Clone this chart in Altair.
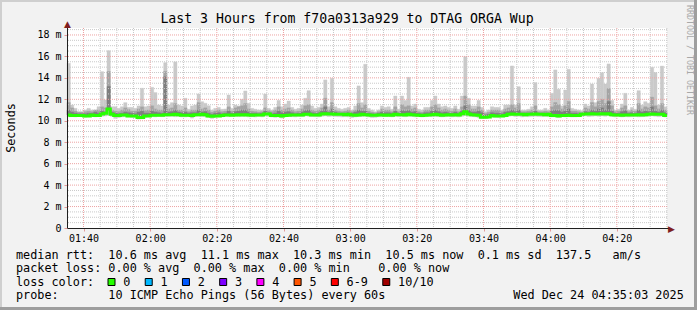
import altair as alt
import pandas as pd

# ---------------- data ----------------
start_minute = 95.05          # 01:35:03 expressed in minutes after midnight
step_minutes = 1.0            # one sample per 60 s

rtt_max = [
    15.36, 11.47, 11.16, 10.85, 10.85, 11.0, 11.16, 11.0, 11.0, 11.31,
    14.58, 11.94, 16.54, 11.31, 11.31, 11.16, 11.31, 11.69, 11.25, 11.25,
    11.16, 11.38, 13.03, 11.31, 11.38, 13.12, 12.63, 11.47, 11.38, 15.42,
    11.47, 11.69, 15.49, 11.47, 11.38, 12.1, 11.07, 11.38, 11.47, 12.5,
    11.78, 11.63, 11.4, 11.0, 11.16, 11.25, 11.07, 11.1, 12.4, 11.16,
    11.47, 11.38, 12.0, 12.78, 11.63, 11.16, 11.07, 11.0, 11.0, 12.5,
    11.16, 11.0, 11.25, 11.9, 11.31, 11.56, 11.84, 11.25, 11.07, 11.16,
    11.47, 12.1, 12.81, 11.38, 11.16, 11.25, 11.56, 13.81, 11.31, 13.96,
    11.31, 11.16, 11.07, 11.16, 11.25, 11.0, 11.38, 13.25, 11.69, 15.27,
    11.16, 11.0, 10.85, 11.0, 11.38, 11.25, 11.31, 11.07, 12.31, 11.07,
    12.31, 11.9, 14.05, 11.38, 11.56, 11.07, 11.0, 11.25, 11.25, 11.9,
    12.31, 11.56, 11.31, 11.38, 11.25, 11.16, 11.38, 11.07, 12.31, 15.98,
    12.1, 11.38, 11.38, 11.9, 11.25, 10.85, 11.0, 11.31, 11.25, 11.25,
    11.0, 11.47, 11.47, 15.11, 11.47, 13.18, 11.0, 11.0, 11.07, 11.31,
    13.56, 11.0, 11.0, 11.16, 11.0, 12.56, 14.74, 12.94, 11.38, 12.87,
    14.8, 11.16, 11.07, 11.0, 10.94, 11.56, 11.38, 13.43, 11.69, 13.96,
    14.49, 13.43, 15.3, 11.9, 11.0, 11.07, 11.56, 12.56, 11.0, 11.25,
    11.07, 12.81, 11.47, 11.78, 11.63, 14.99, 14.5, 11.47, 15.1, 11.3,
]

rtt_p9 = [
    11.7, 11.2, 10.9, 10.8, 10.8, 10.85, 10.9, 10.85, 11.0, 11.0,
    11.3, 11.2, 14.6, 11.0, 10.9, 10.85, 11.0, 11.2, 11.05, 10.9,
    10.9, 11.1, 11.3, 10.95, 11.0, 11.4, 11.1, 11.0, 11.0, 14.6,
    11.1, 11.2, 11.6, 11.0, 11.0, 11.2, 10.85, 11.0, 11.0, 11.7,
    11.1, 11.2, 11.0, 10.8, 10.9, 11.0, 10.85, 10.9, 11.3, 10.9,
    11.2, 11.3, 11.4, 11.6, 11.1, 10.9, 10.85, 10.8, 10.85, 11.2,
    10.95, 10.85, 11.0, 11.3, 11.0, 11.1, 11.2, 11.0, 10.85, 10.9,
    11.1, 11.4, 11.5, 11.0, 10.9, 11.0, 11.2, 12.1, 11.0, 11.7,
    11.0, 10.9, 10.85, 10.9, 11.0, 10.85, 11.0, 11.6, 11.2, 11.5,
    10.9, 10.8, 10.75, 10.85, 11.1, 11.0, 11.0, 10.85, 11.3, 10.85,
    11.5, 11.3, 11.4, 11.1, 11.2, 10.85, 10.8, 11.0, 11.0, 11.3,
    11.5, 11.2, 11.0, 11.1, 11.0, 10.9, 11.1, 10.85, 11.3, 12.3,
    11.5, 11.1, 11.1, 11.3, 11.0, 10.7, 10.8, 11.0, 11.0, 11.0,
    10.85, 11.1, 11.2, 11.5, 11.2, 11.6, 10.85, 10.85, 10.9, 11.0,
    11.4, 10.85, 10.85, 10.9, 10.85, 11.3, 11.7, 11.5, 11.1, 11.4,
    11.8, 10.9, 10.9, 10.85, 10.8, 11.2, 11.1, 11.7, 11.3, 11.8,
    12.0, 11.6, 13.0, 11.4, 10.85, 10.9, 11.2, 11.4, 10.85, 11.0,
    10.9, 11.6, 11.1, 11.3, 11.2, 12.2, 11.4, 11.1, 11.6, 11.0,
]

rtt_p8 = [
    11.0, 10.8, 10.7, 10.65, 10.65, 10.65, 10.7, 10.7, 10.8, 10.7,
    10.9, 10.8, 13.2, 10.8, 10.7, 10.65, 10.7, 10.8, 10.75, 10.7,
    10.65, 10.8, 10.9, 10.7, 10.7, 10.9, 10.8, 10.75, 10.7, 14.1,
    10.8, 10.85, 11.0, 10.8, 10.75, 10.8, 10.7, 10.75, 10.75, 11.0,
    10.8, 10.85, 10.7, 10.6, 10.7, 10.75, 10.65, 10.7, 10.9, 10.7,
    10.85, 10.9, 11.0, 11.0, 10.8, 10.7, 10.7, 10.65, 10.7, 10.9,
    10.75, 10.65, 10.7, 10.9, 10.75, 10.8, 10.85, 10.75, 10.65, 10.7,
    10.8, 10.95, 11.0, 10.75, 10.7, 10.75, 10.9, 11.3, 10.8, 11.1,
    10.8, 10.7, 10.7, 10.7, 10.75, 10.7, 10.8, 11.0, 10.9, 10.9,
    10.7, 10.65, 10.6, 10.7, 10.8, 10.75, 10.75, 10.7, 10.9, 10.7,
    10.95, 10.9, 10.95, 10.8, 10.85, 10.7, 10.65, 10.75, 10.75, 10.9,
    11.0, 10.85, 10.75, 10.8, 10.75, 10.7, 10.8, 10.7, 10.9, 11.4,
    10.95, 10.8, 10.8, 10.9, 10.75, 10.55, 10.6, 10.75, 10.7, 10.7,
    10.65, 10.8, 10.85, 11.0, 10.85, 11.0, 10.7, 10.7, 10.7, 10.75,
    10.9, 10.7, 10.7, 10.7, 10.7, 10.9, 11.0, 10.95, 10.8, 10.9,
    11.1, 10.7, 10.7, 10.65, 10.65, 10.85, 10.8, 11.0, 10.9, 11.1,
    11.2, 11.0, 11.8, 10.9, 10.7, 10.7, 10.85, 10.95, 10.7, 10.75,
    10.7, 11.0, 10.8, 10.9, 10.85, 11.3, 10.9, 10.8, 11.0, 10.75,
]

rtt_min = [
    10.35, 10.38, 10.36, 10.4, 10.38, 10.32, 10.35, 10.4, 10.36, 10.38,
    10.42, 10.45, 10.5, 10.4, 10.22, 10.3, 10.36, 10.38, 10.35, 10.3,
    10.28, 10.15, 10.18, 10.3, 10.35, 10.38, 10.36, 10.4, 10.38, 10.42,
    10.4, 10.42, 10.38, 10.4, 10.36, 10.35, 10.38, 10.25, 10.4, 10.42,
    10.4, 10.38, 10.32, 10.22, 10.3, 10.35, 10.36, 10.4, 10.38, 10.42,
    10.4, 10.38, 10.42, 10.4, 10.36, 10.38, 10.35, 10.4, 10.36, 10.45,
    10.42, 10.35, 10.32, 10.36, 10.25, 10.38, 10.4, 10.38, 10.36, 10.4,
    10.38, 10.45, 10.42, 10.4, 10.38, 10.36, 10.42, 10.45, 10.4, 10.42,
    10.4, 10.38, 10.36, 10.38, 10.36, 10.3, 10.35, 10.38, 10.4, 10.42,
    10.35, 10.3, 10.32, 10.36, 10.38, 10.4, 10.38, 10.36, 10.42, 10.38,
    10.4, 10.38, 10.42, 10.4, 10.36, 10.38, 10.35, 10.38, 10.4, 10.38,
    10.4, 10.38, 10.36, 10.38, 10.4, 10.36, 10.38, 10.35, 10.42, 10.5,
    10.42, 10.38, 10.36, 10.3, 10.2, 10.22, 10.28, 10.35, 10.32, 10.3,
    10.35, 10.38, 10.42, 10.45, 10.4, 10.42, 10.36, 10.4, 10.38, 10.4,
    10.42, 10.4, 10.38, 10.4, 10.38, 10.36, 10.35, 10.3, 10.38, 10.36,
    10.38, 10.35, 10.36, 10.38, 10.42, 10.45, 10.4, 10.42, 10.45, 10.42,
    10.45, 10.42, 10.48, 10.4, 10.36, 10.38, 10.35, 10.38, 10.36, 10.38,
    10.4, 10.36, 10.38, 10.4, 10.42, 10.45, 10.42, 10.38, 10.42, 10.35,
]

rtt_median = [
    10.54, 10.48, 10.48, 10.48, 10.48, 10.45, 10.45, 10.54, 10.48, 10.48,
    10.63, 10.7, 11.1, 10.6, 10.48, 10.48, 10.54, 10.54, 10.45, 10.45,
    10.45, 10.3, 10.3, 10.45, 10.45, 10.51, 10.51, 10.51, 10.51, 10.57,
    10.57, 10.57, 10.6, 10.57, 10.51, 10.51, 10.51, 10.48, 10.57, 10.57,
    10.6, 10.57, 10.45, 10.42, 10.45, 10.45, 10.48, 10.54, 10.54, 10.51,
    10.54, 10.57, 10.54, 10.57, 10.54, 10.51, 10.54, 10.54, 10.54, 10.63,
    10.63, 10.48, 10.48, 10.48, 10.45, 10.48, 10.51, 10.54, 10.54, 10.54,
    10.54, 10.6, 10.6, 10.54, 10.54, 10.54, 10.63, 10.66, 10.63, 10.63,
    10.6, 10.6, 10.6, 10.57, 10.6, 10.54, 10.51, 10.54, 10.6, 10.57,
    10.54, 10.51, 10.51, 10.54, 10.54, 10.51, 10.54, 10.51, 10.6, 10.57,
    10.57, 10.54, 10.6, 10.57, 10.54, 10.51, 10.48, 10.51, 10.54, 10.57,
    10.6, 10.57, 10.51, 10.54, 10.57, 10.54, 10.57, 10.54, 10.66, 10.85,
    10.63, 10.57, 10.54, 10.51, 10.33, 10.33, 10.36, 10.48, 10.45, 10.45,
    10.45, 10.48, 10.6, 10.63, 10.6, 10.6, 10.6, 10.57, 10.6, 10.6,
    10.63, 10.6, 10.6, 10.57, 10.6, 10.48, 10.48, 10.45, 10.48, 10.48,
    10.51, 10.48, 10.48, 10.48, 10.6, 10.63, 10.63, 10.66, 10.63, 10.63,
    10.66, 10.63, 10.66, 10.57, 10.54, 10.54, 10.51, 10.54, 10.54, 10.54,
    10.54, 10.57, 10.54, 10.57, 10.6, 10.63, 10.6, 10.6, 10.6, 10.5,
]

y_ticks = [0, 2, 4, 6, 8, 10, 12, 14, 16, 18]
x_ticks = [100, 120, 140, 160, 180, 200, 220, 240, 260]   # 01:40 ... 04:20

title_text = "Last 3 Hours from f70a0313a929 to DTAG ORGA Wup"
y_title = "Seconds"
watermark = "RRDTOOL / TOBI OETIKER"
row_rtt = "median rtt:  10.6 ms avg  11.1 ms max  10.3 ms min  10.5 ms now  0.1 ms sd  137.5   am/s"
row_loss = "packet loss: 0.00 % avg  0.00 % max  0.00 % min    0.00 % now"
row_color = "loss color:"
row_probe = "probe:       10 ICMP Echo Pings (56 Bytes) every 60s"
date_text = "Wed Dec 24 04:35:03 2025"
loss_labels = ["0", "1", "2", "3", "4", "5", "6-9", "10/10"]
loss_colors = ["#26ff00", "#00b8ff", "#0059ff", "#7e00ff", "#ff00ff", "#ff5500", "#ff0000", "#a10000"]

# ---------------- build tables ----------------
n = len(rtt_max)
df = pd.DataFrame({
    "t0": [start_minute + i * step_minutes for i in range(n)],
    "t1": [start_minute + (i + 1) * step_minutes for i in range(n)],
    "lo": rtt_min, "hi": rtt_max, "p9": rtt_p9, "p8": rtt_p8, "med": rtt_median,
})
med_df = pd.DataFrame({
    "t0": list(df["t0"]) + [df["t1"].iloc[-1]],
    "med": rtt_median + [rtt_median[-1]],
})

end_minute = start_minute + n * step_minutes
x_scale = alt.Scale(domain=[start_minute, end_minute], nice=False, zero=False)
y_scale = alt.Scale(domain=[0, 18.65], nice=False, zero=False)

MONO = "DejaVu Sans Mono"
CW = 7.12   # legend character advance (px)
NB = "\u00a0"

def keep_spaces(s):
    return s.replace(" ", NB)

x_axis = alt.Axis(
    values=x_ticks, title=None, grid=False, domain=True, domainColor="#1f1f1f",
    labelExpr="format(floor(datum.value/60),'02d') + ':' + format(datum.value%60,'02d')",
    labelFont=MONO, labelFontSize=10, labelColor="black", labelPadding=2,
    tickSize=3, tickColor="#e39a9a", labelFlush=False)
y_axis = alt.Axis(
    values=y_ticks, title=None, grid=False, domain=True, domainColor="#1f1f1f",
    labelExpr="datum.value == 0 ? '0' : datum.value + ' m'",
    labelFont=MONO, labelFontSize=10, labelColor="black", labelPadding=3,
    tickSize=3, tickColor="#e39a9a")

def X(field):
    return alt.X(field, scale=x_scale, axis=x_axis, title=None)

def Y(field):
    return alt.Y(field, scale=y_scale, axis=y_axis, title=None)

# plot origin is at canvas (67, 28)
OX, OY = 67, 28

base = alt.Chart(df)
band1 = base.mark_rect(color="#cacaca", stroke="#cacaca", strokeWidth=0.4).encode(
    x=X("t0:Q"), x2="t1:Q", y=Y("lo:Q"), y2="hi:Q")
band2 = base.mark_rect(color="#a4a4a4", stroke="#a4a4a4", strokeWidth=0.4).encode(
    x=X("t0:Q"), x2="t1:Q", y=Y("med:Q"), y2="p9:Q")
band3 = base.mark_rect(color="#7e7e7e", stroke="#7e7e7e", strokeWidth=0.4).encode(
    x=X("t0:Q"), x2="t1:Q", y=Y("med:Q"), y2="p8:Q")

# grid
minor_y = [v * 0.5 for v in range(1, 38) if v % 4 != 0]
minor_x = [m for m in range(100, 276, 5) if m % 20 != 0]
grid_minor_y = alt.Chart(pd.DataFrame({"lo": minor_y})).mark_rule(
    color="#c9c9c9", strokeDash=[1, 1], strokeWidth=1).encode(y=Y("lo:Q"))
grid_major_y = alt.Chart(pd.DataFrame({"lo": y_ticks[1:]})).mark_rule(
    color="#eda3a3", strokeDash=[1, 1], strokeWidth=1).encode(y=Y("lo:Q"))
grid_minor_x = alt.Chart(pd.DataFrame({"t0": minor_x})).mark_rule(
    color="#c9c9c9", strokeDash=[1, 1], strokeWidth=1).encode(x=X("t0:Q"))
grid_major_x = alt.Chart(pd.DataFrame({"t0": x_ticks})).mark_rule(
    color="#eda3a3", strokeDash=[1, 1], strokeWidth=1).encode(x=X("t0:Q"))

median_line = alt.Chart(med_df).mark_line(
    color="#26ff00", strokeWidth=3, interpolate="step-after").encode(
    x=X("t0:Q"), y=Y("med:Q"))

one = pd.DataFrame({"k": [0]})

def rect(x, x2, y, y2, color):
    return alt.Chart(one).mark_rect(color=color).encode(
        x=alt.value(x - OX), x2=alt.value(x2 - OX),
        y=alt.value(y - OY), y2=alt.value(y2 - OY))

def text(s, x, y, size, color="black", align="left", baseline="alphabetic", angle=0, font=MONO):
    kw = dict(font=font, fontSize=size, color=color, align=align, baseline=baseline)
    if angle:
        kw["angle"] = angle
    return alt.Chart(one).mark_text(**kw).encode(
        x=alt.value(x - OX), y=alt.value(y - OY), text=alt.value(keep_spaces(s)))

# axis extensions and arrows (canvas coordinates)
axis_bits = [
    rect(67, 68, 24, 228, "#1f1f1f"),       # y axis running up to the arrow
    rect(667, 669, 228, 229, "#1f1f1f"),    # x axis running to the arrow
    text("\u25b2", 67.5, 23.5, 9, color="#801f1f", align="center", baseline="middle", font="DejaVu Sans"),
    text("\u25b6", 671.5, 228.5, 9, color="#801f1f", align="center", baseline="middle", font="DejaVu Sans"),
]

# frame shading
frame = [
    rect(0, 697, 0, 2, "#cfcfcf"),
    rect(0, 2, 0, 310, "#cfcfcf"),
    rect(694, 697, 0, 310, "#9e9e9e"),
    rect(0, 697, 307, 310, "#9e9e9e"),
]

# loss colour legend boxes
box_x = [108.0]
for lab in loss_labels[:-1]:
    box_x.append(box_x[-1] + 30.1 + CW * len(lab))
leg = pd.DataFrame({
    "bx": [b - OX for b in box_x],
    "bx2": [b + 7 - OX for b in box_x],
    "tx": [b + 15.3 - OX for b in box_x],
    "lab": loss_labels,
    "col": loss_colors,
})
leg_boxes = alt.Chart(leg).mark_rect(stroke="black", strokeWidth=1).encode(
    x=alt.X("bx:Q", scale=None), x2="bx2:Q",
    y=alt.value(278.5 - OY), y2=alt.value(285.5 - OY),
    fill=alt.Fill("col:N", scale=None))
leg_text = alt.Chart(leg).mark_text(font=MONO, fontSize=11.8, color="black",
                                    align="left", baseline="alphabetic").encode(
    x=alt.X("tx:Q", scale=None), y=alt.value(285.7 - OY), text="lab:N")

texts = [
    text(title_text, 347, 19, 13.2, align="center", baseline="middle"),
    text(y_title, 11, 128, 11.8, align="center", baseline="middle", angle=270),
    text(watermark, 688.5, 60, 8.3, color="#a8a8a8", align="center", baseline="middle", angle=90),
    text(row_rtt, 16, 258.5, 11.8),
    text(row_loss, 16, 271.7, 11.8),
    text(row_color, 16, 285.7, 11.8),
    text(row_probe, 16, 299.0, 11.8),
    text(date_text, 513.3, 299.0, 11.8),
]

chart = alt.layer(
    band1, band2, band3,
    grid_minor_y, grid_minor_x, grid_major_y, grid_major_x,
    median_line,
    leg_boxes, leg_text,
    *axis_bits, *frame, *texts,
).properties(
    width=600, height=200,
    background="#f2f2f2",
    padding={"left": 67, "top": 28, "right": 30, "bottom": 82},
    autosize=alt.AutoSizeParams(type="none"),
).configure_view(fill="white", strokeWidth=0)

chart.save("out.html", embed_options={"renderer": "svg", "actions": False})
